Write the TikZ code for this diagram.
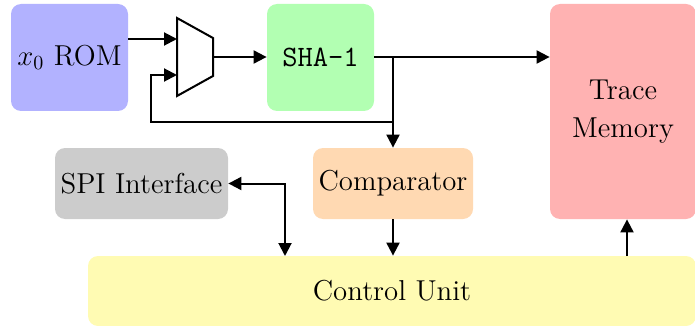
\documentclass[tikz,border=0pt]{standalone}
\usetikzlibrary{arrows.meta}
\begin{document}
\begin{tikzpicture}[x=0.5pt,y=-0.5pt,
  blk/.style={rounded corners=5pt,inner sep=0pt,font=\fontsize{14.4}{19}\selectfont,align=center},
  arr/.style={line width=1pt,-{Triangle[length=6.5pt,width=6.5pt]}},
  ln/.style={line width=1pt}]
\useasboundingbox (0,0) rectangle (695,326);
\node[blk,fill=blue!30,minimum width=58.5pt,minimum height=53.5pt] (rom) at (69.5,57.5) {$x_0$ ROM};
\node[blk,fill=green!30,minimum width=53.5pt,minimum height=53.5pt] (sha) at (320.5,57.5) {\fontsize{14.8}{19}\selectfont\texttt{SHA-1}};
\node[blk,fill=red!30,minimum width=73pt,minimum height=107.5pt] (trace) at (623,111.5) {Trace\\Memory};
\node[blk,fill=orange!30,minimum width=80pt,minimum height=35.5pt] (comp) at (393,183.5) {Comparator};
\node[blk,fill=gray!40,minimum width=86.5pt,minimum height=35.5pt] (spi) at (141.5,183.5) {SPI Interface};
\node[blk,fill=yellow!30,minimum width=304pt,minimum height=35pt] (ctrl) at (392,291) {Control Unit};
% mux
\draw[ln] (177,18) -- (213,38) -- (213,76) -- (177,96) -- cycle;
\coordinate (muxa) at (177,39);
\coordinate (muxb) at (177,75);
\coordinate (muxo) at (213,57);
\coordinate (br) at (393,57);
\coordinate (fb) at (393,122);
\coordinate (fbl) at (151,122);
\coordinate (spid) at (285,256);
\coordinate (ctu) at (627,256);
\draw[arr] (muxa -| rom.east) -- (muxa);
\draw[arr] (muxo) -- (muxo -| sha.west);
\draw[arr] (sha.east |- br) -- (br -| trace.west);
\draw[arr] (br) -- (comp.north);
\draw[arr] (fb) -- (fbl) |- (muxb);
\draw[arr,{Triangle[length=6.5pt,width=6.5pt]}-{Triangle[length=6.5pt,width=6.5pt]}] (spi.east) -| (spid);
\draw[arr] (comp.south) -- (comp.south |- ctrl.north);
\draw[arr] (ctu) -- (ctu |- trace.south);
\end{tikzpicture}
\end{document}
